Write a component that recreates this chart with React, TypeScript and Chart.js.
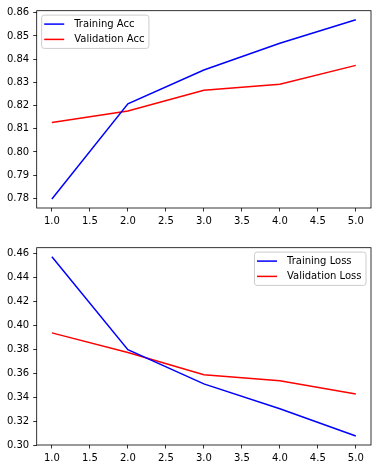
import React, { useEffect, useRef } from "react";
import { Chart, registerables } from "chart.js";

Chart.register(...registerables);

const epochs = [1, 2, 3, 4, 5];
const trainAcc = [0.7797, 0.8207, 0.8353, 0.8468, 0.857];
const valAcc = [0.8127, 0.8176, 0.8266, 0.8292, 0.8373];
const trainLoss = [0.4572, 0.3797, 0.3512, 0.3304, 0.3077];
const valLoss = [0.3937, 0.3773, 0.3587, 0.3537, 0.3428];
const xTicks = [1, 1.5, 2, 2.5, 3, 3.5, 4, 4.5, 5];
const accTicks = [0.78, 0.79, 0.8, 0.81, 0.82, 0.83, 0.84, 0.85, 0.86];
const lossTicks = [0.3, 0.32, 0.34, 0.36, 0.38, 0.4, 0.42, 0.44, 0.46];

const FONT = "'DejaVu Sans', sans-serif";

function bounds(arrs: number[][], margin = 0.05) {
  const all = arrs.flat();
  const lo = Math.min(...all);
  const hi = Math.max(...all);
  const m = (hi - lo) * margin;
  return [lo - m, hi + m];
}

const framePlugin = {
  id: "frame",
  afterDraw(chart: any) {
    const { ctx, chartArea: a } = chart;
    ctx.save();
    ctx.strokeStyle = "#000";
    ctx.lineWidth = 0.8;
    ctx.strokeRect(a.left, a.top, a.right - a.left, a.bottom - a.top);
    const leg = chart.options.plugins.mplLegend;
    if (leg) {
      ctx.font = `10px ${FONT}`;
      const tw = Math.max(...leg.items.map((it: any) => ctx.measureText(it.label).width));
      const w = 2 + 20 + 10 + tw + 5;
      const h = 33.3;
      const x = leg.align === "left" ? a.left + 5 : a.right - 5 - w;
      const y = a.top + 4.4;
      ctx.beginPath();
      if (ctx.roundRect) ctx.roundRect(x, y, w, h, 2.5);
      else ctx.rect(x, y, w, h);
      ctx.fillStyle = "rgba(255,255,255,0.8)";
      ctx.fill();
      ctx.strokeStyle = "#cccccc";
      ctx.lineWidth = 1;
      ctx.stroke();
      leg.items.forEach((it: any, i: number) => {
        const cy = y + 9 + i * 15.3;
        ctx.beginPath();
        ctx.moveTo(x + 2.5, cy);
        ctx.lineTo(x + 22.5, cy);
        ctx.strokeStyle = it.color;
        ctx.lineWidth = 1.5;
        ctx.stroke();
        ctx.fillStyle = "#000";
        ctx.textBaseline = "middle";
        ctx.textAlign = "left";
        ctx.fillText(it.label, x + 32.5, cy + 0.5);
      });
    }
    ctx.restore();
  },
};

function makeConfig(
  series: { label: string; data: number[]; color: string }[],
  yTicks: number[],
  legendAlign: string,
  padTop: number,
  xHeight: number
): any {
  const [ymin, ymax] = bounds(series.map((s) => s.data));
  return {
    type: "line",
    data: {
      datasets: series.map((s) => ({
        label: s.label,
        data: epochs.map((e, i) => ({ x: e, y: s.data[i] })),
        borderColor: s.color,
        backgroundColor: s.color,
        borderWidth: 1.5,
        pointRadius: 0,
        tension: 0,
        fill: false,
      })),
    },
    options: {
      animation: false,
      responsive: false,
      devicePixelRatio: 1,
      layout: { padding: { top: padTop, right: 10, left: 0, bottom: 0 } },
      plugins: {
        legend: { display: false },
        tooltip: { enabled: false },
        mplLegend: {
          align: legendAlign,
          items: series.map((s) => ({ label: s.label, color: s.color })),
        },
      },
      scales: {
        x: {
          type: "linear",
          min: 0.8,
          max: 5.2,
          afterBuildTicks: (sc: any) => {
            sc.ticks = xTicks.map((v) => ({ value: v }));
          },
          afterFit: (sc: any) => {
            sc.height = xHeight;
          },
          border: { display: false },
          grid: {
            drawOnChartArea: false,
            drawTicks: true,
            tickLength: 3.5,
            tickWidth: 0.8,
            tickColor: "#000",
          },
          ticks: {
            padding: 3.5,
            color: "#000",
            maxRotation: 0,
            autoSkip: false,
            font: { family: FONT, size: 10 },
            callback: (v: any) => Number(v).toFixed(1),
          },
        },
        y: {
          type: "linear",
          min: ymin,
          max: ymax,
          afterBuildTicks: (sc: any) => {
            sc.ticks = yTicks.map((v) => ({ value: v }));
          },
          afterFit: (sc: any) => {
            sc.width = 36.7;
          },
          border: { display: false },
          grid: {
            drawOnChartArea: false,
            drawTicks: true,
            tickLength: 3.5,
            tickWidth: 0.8,
            tickColor: "#000",
          },
          ticks: {
            padding: 4,
            color: "#000",
            autoSkip: false,
            font: { family: FONT, size: 10 },
            callback: (v: any) => Number(v).toFixed(2),
          },
        },
      },
    },
    plugins: [framePlugin],
  };
}

function Plot({ top, height, cfg }: { top: number; height: number; cfg: () => any }) {
  const ref = useRef<HTMLCanvasElement>(null);
  useEffect(() => {
    const chart = new Chart(ref.current as HTMLCanvasElement, cfg());
    return () => chart.destroy();
  }, []);
  return (
    <canvas
      ref={ref}
      width={381}
      height={height}
      style={{ position: "absolute", left: 0, top, width: 381, height }}
    />
  );
}

export default function App() {
  return (
    <div style={{ position: "fixed", left: 0, top: 0, width: 381, height: 469, background: "#fff" }}>
      <Plot
        top={0}
        height={232}
        cfg={() =>
          makeConfig(
            [
              { label: "Training Acc", data: trainAcc, color: "#0000ff" },
              { label: "Validation Acc", data: valAcc, color: "#ff0000" },
            ],
            accTicks,
            "left",
            10.7,
            24
          )
        }
      />
      <Plot
        top={235}
        height={234}
        cfg={() =>
          makeConfig(
            [
              { label: "Training Loss", data: trainLoss, color: "#0000ff" },
              { label: "Validation Loss", data: valLoss, color: "#ff0000" },
            ],
            lossTicks,
            "right",
            12.7,
            24
          )
        }
      />
    </div>
  );
}
